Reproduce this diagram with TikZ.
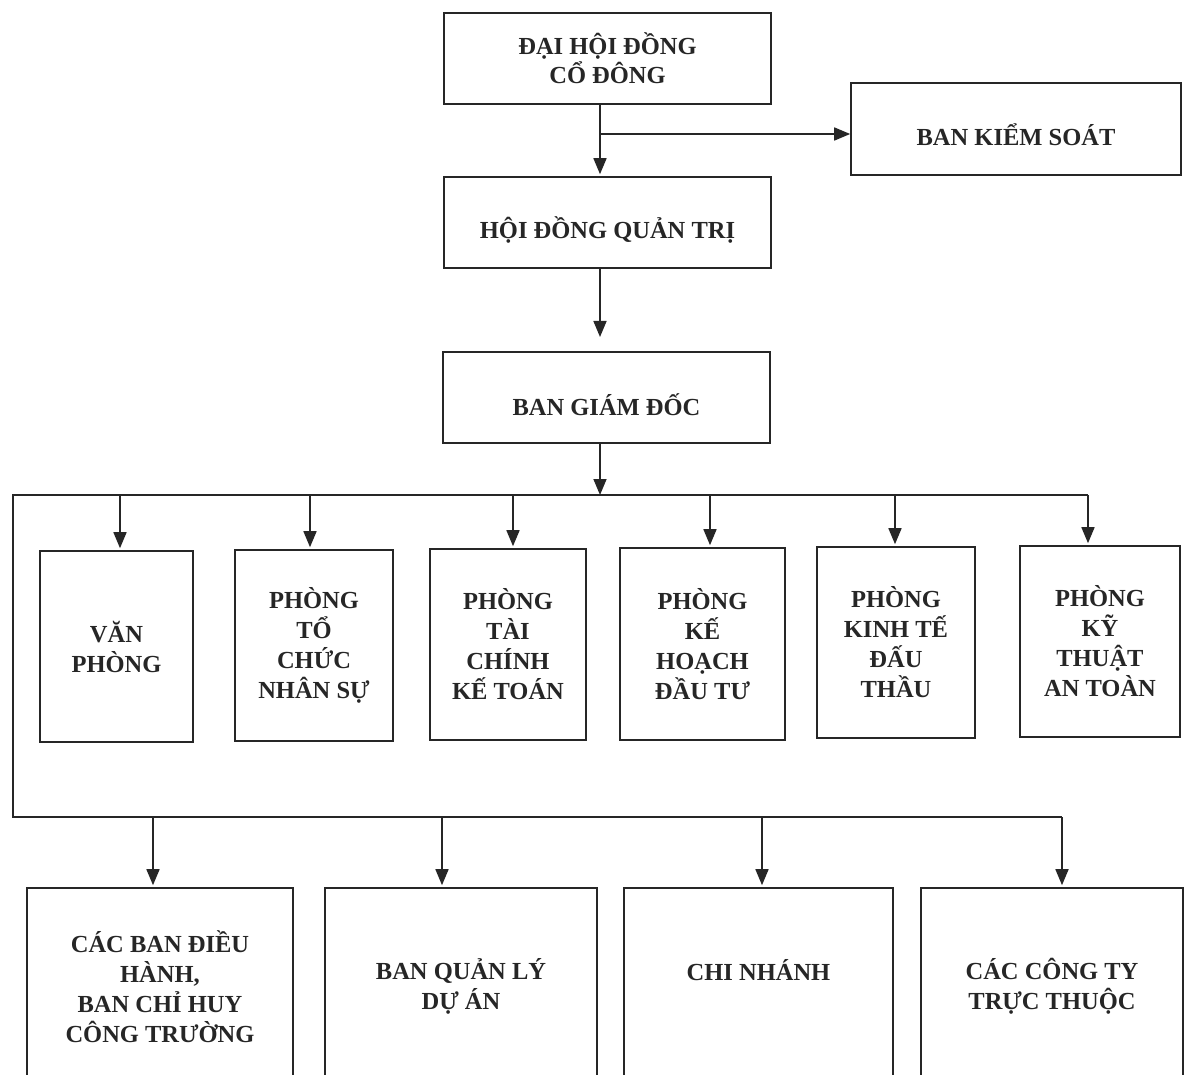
\documentclass[tikz,border=0pt]{standalone}
\usepackage{fontspec}
\setmainfont{Liberation Serif}
\usetikzlibrary{arrows.meta}
\definecolor{ink}{gray}{0.15}
\begin{document}
\begin{tikzpicture}[x=1pt,y=-1pt,
  box/.style={draw=ink, line width=1.6pt, text=ink, align=center, inner sep=0pt,
    font=\bfseries\fontsize{24.5}{30}\selectfont},
  conn/.style={draw=ink, line width=1.6pt},
  arr/.style={conn, -{Triangle[width=13pt,length=16pt]}, shorten >=2pt}]
\clip (0,0) rectangle (1184,1075);
\fill[white] (0,0) rectangle (1184,1075);

% top levels
\node[box, minimum width=327pt, minimum height=91pt] (dhd) at (607.5,58.5) {ĐẠI HỘI ĐỒNG\\[-1pt]CỔ ĐÔNG};
\node[box, minimum width=330pt, minimum height=92pt] (bks) at (1016,129) {\raisebox{0pt}[34pt][0pt]{BAN KIỂM SOÁT}};
\node[box, minimum width=327pt, minimum height=91pt] (hdqt) at (607.5,222.5) {\raisebox{0pt}[33pt][0pt]{HỘI ĐỒNG QUẢN TRỊ}};
\node[box, minimum width=327pt, minimum height=91pt] (bgd) at (606.5,397.5) {\raisebox{0pt}[37pt][0pt]{BAN GIÁM ĐỐC}};

% departments
\node[box, minimum width=153pt, minimum height=191pt] (p1) at (116.5,646.5) {VĂN\\PHÒNG};
\node[box, minimum width=158pt, minimum height=191pt] (p2) at (314,645.5) {PHÒNG\\TỔ\\CHỨC\\NHÂN SỰ};
\node[box, minimum width=156pt, minimum height=191pt] (p3) at (508,644.5) {PHÒNG\\TÀI\\CHÍNH\\KẾ TOÁN};
\node[box, minimum width=165pt, minimum height=192pt] (p4) at (702.5,644) {PHÒNG\\KẾ\\HOẠCH\\ĐẦU TƯ};
\node[box, minimum width=158pt, minimum height=191pt] (p5) at (896,642.5) {PHÒNG\\KINH TẾ\\ĐẤU\\THẦU};
\node[box, minimum width=160pt, minimum height=191pt] (p6) at (1100,641.5) {PHÒNG\\KỸ\\THUẬT\\AN TOÀN};

% lower units
\node[box, minimum width=266pt, minimum height=197pt] (b1) at (160,986.5) {CÁC BAN ĐIỀU\\HÀNH,\\BAN CHỈ HUY\\CÔNG TRƯỜNG};
\node[box, minimum width=272pt, minimum height=197pt] (b2) at (461,986.5) {BAN QUẢN LÝ\\DỰ ÁN};
\node[box, minimum width=269pt, minimum height=197pt] (b3) at (758.5,986.5) {\raisebox{0pt}[0pt][13pt]{CHI NHÁNH}};
\node[box, minimum width=262pt, minimum height=197pt] (b4) at (1052,986.5) {CÁC CÔNG TY\\TRỰC THUỘC};

% trunk coordinates
\coordinate (k1) at (600,134);
\coordinate (k2) at (600,337);
\coordinate (busL) at (13,495);
\coordinate (busR) at (1088,495);
\coordinate (bus2L) at (13,817);
\coordinate (bus2R) at (1062,817);

\draw[arr] (dhd.south -| k1) -- (hdqt.north -| k1);
\draw[arr, shorten >=0pt] (k1) -- (bks.west |- k1);
\draw[arr, shorten >=0pt] (hdqt.south -| k1) -- (k2);
\draw[arr, shorten >=0pt] (bgd.south -| k1) -- (k1 |- busL);
\draw[conn] (busR) -- (busL) -- (bus2L) -- (bus2R);

% department arrows
\coordinate (a1) at (120,495);
\coordinate (a2) at (310,495);
\coordinate (a3) at (513,495);
\coordinate (a4) at (710,495);
\coordinate (a5) at (895,495);
\draw[arr] (a1) -- (a1 |- p1.north);
\draw[arr] (a2) -- (a2 |- p2.north);
\draw[arr] (a3) -- (a3 |- p3.north);
\draw[arr] (a4) -- (a4 |- p4.north);
\draw[arr] (a5) -- (a5 |- p5.north);
\draw[arr] (busR) -- (busR |- p6.north);

% lower arrows
\coordinate (d1) at (153,817);
\coordinate (d2) at (442,817);
\coordinate (d3) at (762,817);
\draw[arr] (d1) -- (d1 |- b1.north);
\draw[arr] (d2) -- (d2 |- b2.north);
\draw[arr] (d3) -- (d3 |- b3.north);
\draw[arr] (bus2R) -- (bus2R |- b4.north);
\end{tikzpicture}
\end{document}
